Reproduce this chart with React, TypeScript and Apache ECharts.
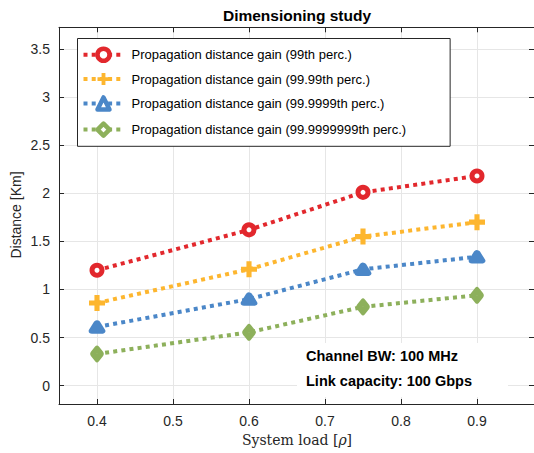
import React, { useEffect, useRef } from "react";
import * as echarts from "echarts";

const loads = [0.4, 0.6, 0.75, 0.9];
const gain99 = [1.2, 1.62, 2.01, 2.18];
const gain9999 = [0.86, 1.21, 1.55, 1.7];
const gain999999 = [0.61, 0.9, 1.21, 1.34];
const gain999999999 = [0.33, 0.555, 0.82, 0.94];
const seriesNames = [
  "Propagation distance gain (99th perc.)",
  "Propagation distance gain (99.99th perc.)",
  "Propagation distance gain (99.9999th perc.)",
  "Propagation distance gain (99.9999999th perc.)",
];
const xTicks = [0.4, 0.5, 0.6, 0.7, 0.8, 0.9];
const yTicks = [0, 0.5, 1, 1.5, 2, 2.5, 3, 3.5];

const RED = "#e2282d";
const YELLOW = "#fdb62f";
const BLUE = "#4b87c8";
const GREEN = "#8db05b";
const AX = "#262626";
const GRID = "#e6e6e6";
const FONT = "'Liberation Sans', Arial, Helvetica, sans-serif";

const PLUS = "path://M3.4,0H6.6V3.4H10V6.6H6.6V10H3.4V6.6H0V3.4H3.4Z";

function pairs(ys: number[]) {
  return loads.map((x, i) => [x, ys[i]]);
}

export default function App() {
  const ref = useRef<HTMLDivElement>(null);
  useEffect(() => {
    if (!ref.current) return;
    const chart = echarts.init(ref.current, null, { renderer: "svg" });
    const dotted = (color: string) => ({ color, width: 4, type: [4, 4.2], cap: "butt" });
    const tickAxis = (pos: string, show: boolean, isX: boolean) => ({
      type: "value",
      position: pos,
      min: isX ? 0.35 : -0.19,
      max: isX ? 0.975 : 3.725,
      axisLine: { show: true, onZero: false, lineStyle: { color: AX, width: 1 } },
      axisTick: {
        show: true,
        inside: true,
        length: 5,
        customValues: isX ? xTicks : yTicks,
        lineStyle: { color: AX, width: 1 },
      },
      axisLabel: {
        show,
        customValues: isX ? xTicks : yTicks,
        color: AX,
        fontFamily: FONT,
        fontSize: 14,
        margin: isX ? 10 : 9,
        formatter: (v: number) => String(v),
      },
      splitLine: show ? { show: true, lineStyle: { color: GRID, width: 1 } } : { show: false },
    });
    chart.setOption({
      animation: false,
      backgroundColor: "#fff",
      grid: { left: 59, right: -2, top: 27.3, bottom: 49, containLabel: false },
      xAxis: [tickAxis("bottom", true, true), tickAxis("top", false, true)],
      yAxis: [tickAxis("left", true, false), tickAxis("right", false, false)],
      legend: {
        orient: "vertical",
        left: 77.5,
        top: 38.5,
        padding: [8, 44, 8.5, 4],
        itemWidth: 40,
        itemHeight: 15,
        itemGap: 9.6,
        borderColor: AX,
        borderWidth: 1,
        backgroundColor: "#fff",
        lineStyle: { width: 4, type: [4, 4.2], cap: "butt" },
        itemStyle: { borderWidth: 4.5 },
        textStyle: { fontFamily: FONT, fontSize: 13, color: "#000", padding: [0, 0, 0, 3] },
        data: seriesNames,
      },
      series: [
        {
          name: seriesNames[0],
          type: "line",
          data: pairs(gain99),
          color: RED,
          symbol: "circle",
          symbolSize: 10,
          itemStyle: { color: "#fff", borderColor: RED, borderWidth: 5 },
          lineStyle: dotted(RED),
        },
        {
          name: seriesNames[1],
          type: "line",
          data: pairs(gain9999),
          color: YELLOW,
          symbol: PLUS,
          symbolSize: 16,
          itemStyle: { color: YELLOW },
          lineStyle: dotted(YELLOW),
        },
        {
          name: seriesNames[2],
          type: "line",
          data: pairs(gain999999),
          color: BLUE,
          symbol: "triangle",
          symbolSize: [10, 8],
          itemStyle: { color: "#fff", borderColor: BLUE, borderWidth: 6, borderJoin: "round" },
          lineStyle: dotted(BLUE),
        },
        {
          name: seriesNames[3],
          type: "line",
          data: pairs(gain999999999),
          color: GREEN,
          symbol: "diamond",
          symbolSize: [8, 10],
          itemStyle: { color: "#fff", borderColor: GREEN, borderWidth: 6, borderJoin: "round" },
          lineStyle: dotted(GREEN),
        },
      ],
      graphic: [
        {
          type: "text",
          x: 297,
          y: 15,
          style: {
            text: "Dimensioning study",
            fontFamily: FONT,
            fontWeight: "bold",
            fontSize: 15.5,
            fill: "#000",
            textAlign: "center",
            textVerticalAlign: "middle",
          },
        },
        {
          type: "text",
          x: 16,
          y: 215,
          rotation: Math.PI / 2,
          style: {
            text: "Distance [Km]",
            fontFamily: FONT,
            fontSize: 14,
            fill: AX,
            textAlign: "center",
            textVerticalAlign: "middle",
          },
        },
        {
          type: "text",
          x: 297,
          y: 440,
          style: {
            text: "{a|System load [}{b|ρ}{a|]}",
            rich: {
              a: { fontFamily: "'DejaVu Serif', 'Liberation Serif', serif", fontSize: 14, fill: AX, color: AX },
              b: {
                fontFamily: "'DejaVu Serif', 'Liberation Serif', serif",
                fontStyle: "italic",
                fontSize: 14,
                fill: AX,
                color: AX,
              },
            },
            textAlign: "center",
            textVerticalAlign: "middle",
          },
        },
        {
          type: "rect",
          z: 5,
          shape: { x: 297, y: 343, width: 211, height: 54 },
          style: { fill: "#fff" },
        },
        {
          type: "text",
          z: 6,
          x: 306,
          y: 356,
          style: {
            text: "Channel BW: 100 MHz",
            fontFamily: FONT,
            fontWeight: "bold",
            fontSize: 14.5,
            fill: "#000",
            textVerticalAlign: "middle",
          },
        },
        {
          type: "text",
          z: 6,
          x: 306,
          y: 381,
          style: {
            text: "Link capacity: 100 Gbps",
            fontFamily: FONT,
            fontWeight: "bold",
            fontSize: 14.5,
            fill: "#000",
            textVerticalAlign: "middle",
          },
        },
      ],
    });
    return () => chart.dispose();
  }, []);
  return (
    <div
      ref={ref}
      style={{ position: "absolute", left: 0, top: 0, width: 534, height: 453 }}
    />
  );
}
